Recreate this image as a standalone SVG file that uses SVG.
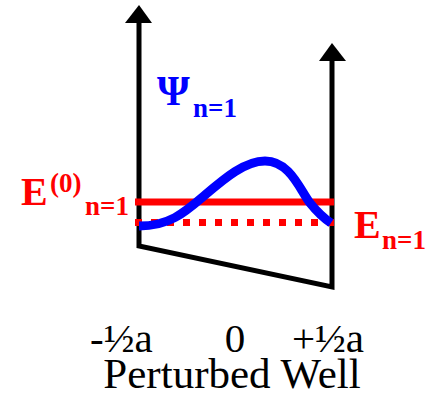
<svg xmlns="http://www.w3.org/2000/svg" width="425" height="394" viewBox="0 0 425 394">
<style>
.wall{fill:none;stroke:#000;stroke-width:5;stroke-linejoin:miter}
.head{fill:#000}
.e0{stroke:#ff0000;stroke-width:7}
.e1{stroke:#ff0000;stroke-width:7;stroke-dasharray:7 9}
.psi{fill:none;stroke:#0000ff;stroke-width:9;stroke-linecap:butt}
text{font-family:'Liberation Serif','Times New Roman',serif}
.red{fill:#ff0000;font-weight:bold}
.blue{fill:#0000ff;font-weight:bold}
.axis{fill:#000}
</style>
<g id="well">
<path class="wall" d="M139,22 L139,246 L332,287 L332,60"/>
<polygon class="head" points="139,5 125,23 152,23"/>
<polygon class="head" points="332,43 319,61 346,61"/>
</g>
<g id="connectors">
<line class="e0" x1="135" y1="202" x2="334" y2="202"/>
<line class="e1" x1="135" y1="222.5" x2="334" y2="222.5"/>
</g>
<g id="wavefunction">
<path class="psi" d="M139,226 C170,226 185,212 205,195 C225,178 245,161 265,161 C290,161 300,190 310,203 C318,213 325,219 331,223"/>
</g>
<g id="psi-label">
<text class="blue" x="157" y="105" font-size="42">Ψ</text>
<text class="blue" x="193" y="117" font-size="27">n=1</text>
</g>
<g id="e0-label">
<text class="red" x="21" y="205" font-size="40">E</text>
<text class="red" x="50" y="192" font-size="27">(0)</text>
<text class="red" x="85" y="215" font-size="27">n=1</text>
</g>
<g id="e1-label">
<text class="red" x="354" y="238" font-size="40">E</text>
<text class="red" x="382" y="249" font-size="27">n=1</text>
</g>
<g id="axis-labels">
<text class="axis" x="90" y="352" font-size="41">-½a</text>
<text class="axis" x="235" y="352" font-size="41" text-anchor="middle">0</text>
<text class="axis" x="292" y="352" font-size="41">+½a</text>
<text class="axis" x="232" y="388" font-size="43" text-anchor="middle">Perturbed Well</text>
</g>
</svg>
